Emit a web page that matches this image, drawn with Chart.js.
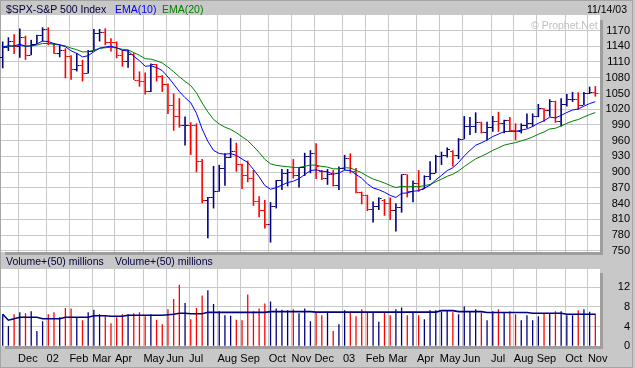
<!DOCTYPE html>
<html><head><meta charset="utf-8">
<script src="https://cdn.jsdelivr.net/npm/chart.js@4.4.1/dist/chart.umd.min.js"></script>
<style>
html,body{margin:0;padding:0;background:#c8c8c8;}
#wrap{position:relative;width:635px;height:368px;overflow:hidden;background:#c8c8c8;font-family:"Liberation Sans",Arial,sans-serif;}
.t{position:absolute;font-size:10.5px;white-space:pre;line-height:1;}
canvas{position:absolute;left:0;}
.sh{position:absolute;background:#9e9e9e;}
#frame{position:absolute;left:0;top:0;width:631px;height:366px;border:1px solid #a4a4a4;}
</style></head><body>
<div id="wrap">
  <div id="frame"></div>
  <canvas id="pc" width="635" height="262" style="top:0"></canvas>
  <canvas id="vc" width="635" height="113" style="top:255px"></canvas>
  <div class="sh" style="left:600px;top:20px;width:3px;height:235px"></div>
  <div class="sh" style="left:5px;top:252px;width:598px;height:3px"></div>
  <div class="sh" style="left:600px;top:273px;width:3px;height:76px"></div>
  <div class="sh" style="left:5px;top:346px;width:598px;height:3px"></div>
  <span class="t" style="left:6px;top:4px;color:#000040">$SPX-S&amp;P 500 Index</span>
  <span class="t" style="left:115px;top:4px;color:#0000ff">EMA(10)</span>
  <span class="t" style="left:162px;top:4px;color:#008000">EMA(20)</span>
  <span class="t" style="right:8px;top:4px;color:#000">11/14/03</span>
  <span class="t" style="left:531px;top:20px;color:#c0c0c0">© Prophet.Net</span>
  <span class="t" style="left:6px;top:256px;color:#000040">Volume+(50) millions</span>
  <span class="t" style="left:115px;top:256px;color:#000040">Volume+(50) millions</span>
</div>
<script>
// ---- data (weekly, Nov 2001 - Nov 14 2003) ----
const firstWeekMonday = Date.UTC(2001, 10, 12);
const weekCount = 105;
const weeks = Array.from({length: weekCount}, (_, i) => new Date(firstWeekMonday + i * 7 * 864e5));

const priceHigh = [1149,1157,1163,1174,1160,1152,1162,1176,1176,1146,
 1142,1136,1123,1127,1114,1133,1173,1173,1174,1155,
 1149,1133,1133,1127,1092,1090,1107,1106,1085,1069,
 1050,1041,1006,995,993,925,853,912,914,936,
 965,956,916,922,904,854,847,843,885,906,
 906,925,910,937,942,955,904,906,904,911,
 933,936,908,863,857,844,852,849,852,841,
 896,896,884,904,894,921,933,939,947,942,
 965,1007,1005,1014,996,996,1007,1015,1000,1005,
 993,993,1012,1012,1030,1022,1039,1036,1041,1049,
 1053,1052,1053,1063,1064];
const priceLow = [1098,1131,1125,1118,1114,1123,1144,1149,1142,1125,
 1119,1079,1076,1092,1073,1088,1131,1149,1142,1130,
 1117,1101,1099,1076,1063,1048,1053,1073,1053,1011,
 979,985,951,933,900,841,774,831,863,874,
 927,901,868,881,836,814,793,766,831,866,
 873,888,871,893,898,887,885,876,873,866,
 904,898,860,839,826,804,828,817,809,787,
 823,852,843,863,868,885,898,914,928,911,
 925,963,971,975,974,961,977,977,974,977,
 961,974,984,987,1005,996,1006,994,987,1025,
 1034,1019,1028,1049,1044];
const priceOpen = [1120.0,1138.7,1150.3,1139.5,1158.3,1123.1,1144.9,1161.0,1172.5,1145.6,
 1127.6,1133.3,1122.2,1096.2,1104.2,1089.8,1131.8,1164.3,1166.2,1148.7,
 1147.4,1122.7,1111.0,1125.2,1076.3,1073.4,1055.0,1106.6,1083.8,1067.1,
 1027.5,1007.3,989.1,989.8,989.0,921.4,847.8,852.8,864.2,908.6,
 928.8,940.9,916.1,893.9,889.8,845.4,827.4,800.6,835.3,884.4,
 897.7,901.0,894.7,909.8,930.6,936.3,903.0,889.5,895.8,875.4,
 908.6,927.6,901.8,861.4,855.7,829.7,834.9,848.0,841.2,828.9,
 833.3,895.8,863.5,878.9,868.3,893.6,898.8,930.1,933.4,941.0,
 933.2,963.6,987.8,988.6,995.7,976.2,985.7,998.1,993.3,998.7,
 980.2,977.6,990.7,993.1,1008.0,1021.4,1018.6,1035.0,996.9,1029.9,
 1038.7,1039.3,1028.9,1050.7,1053.2];
const priceClose = [1138.7,1150.3,1139.5,1158.3,1123.1,1144.9,1161.0,1172.5,1145.6,1127.6,
 1133.3,1122.2,1096.2,1104.2,1089.8,1131.8,1164.3,1166.2,1148.7,1147.4,
 1122.7,1111.0,1125.2,1076.3,1073.4,1055.0,1106.6,1083.8,1067.1,1027.5,
 1007.3,989.1,989.8,989.0,921.4,847.8,852.8,864.2,908.6,928.8,
 940.9,916.1,893.9,889.8,845.4,827.4,800.6,835.3,884.4,897.7,
 901.0,894.7,909.8,930.6,936.3,912.2,889.5,895.8,875.4,908.6,
 927.6,901.8,861.4,855.7,829.7,834.9,851.2,841.2,828.9,833.3,
 895.8,863.5,878.9,868.3,893.6,898.8,930.1,933.4,944.3,933.2,
 963.6,987.8,988.6,995.7,976.2,985.7,998.1,993.3,998.7,980.2,
 977.6,990.7,993.1,1008.0,1021.4,1018.6,1036.3,996.9,1029.9,1038.7,
 1039.3,1028.9,1050.7,1053.2,1050.4];
const ema10 = [1138.7,1140.8,1140.6,1143.8,1140.0,1140.9,1144.6,1149.7,1148.9,1145.0,
 1142.9,1139.1,1131.3,1126.4,1119.7,1121.9,1129.6,1136.3,1138.5,1140.1,
 1137.0,1132.2,1131.0,1121.0,1112.4,1101.9,1102.8,1099.3,1093.5,1081.5,
 1068.0,1053.6,1042.0,1032.4,1012.2,982.3,958.8,941.6,935.6,934.3,
 935.5,932.0,925.1,918.6,905.3,891.2,874.7,867.5,870.6,875.5,
 880.2,882.8,887.7,895.5,903.0,904.6,901.9,900.8,896.2,898.4,
 903.7,903.4,895.7,888.5,877.8,870.0,866.6,861.9,855.9,851.8,
 859.8,860.5,863.8,864.7,869.9,875.2,885.2,893.9,903.1,908.6,
 918.6,931.1,941.6,951.4,955.9,961.3,968.0,972.6,977.4,977.9,
 977.8,980.2,982.5,987.1,993.4,998.0,1004.9,1003.5,1008.3,1013.8,
 1018.5,1020.4,1025.9,1030.8,1034.4];
const ema20 = [1138.7,1139.8,1139.8,1141.6,1139.8,1140.3,1142.3,1145.2,1145.2,1143.5,
 1142.5,1140.6,1136.4,1133.3,1129.2,1129.4,1132.7,1135.9,1137.1,1138.1,
 1136.6,1134.2,1133.3,1127.9,1122.7,1116.3,1115.4,1112.4,1108.1,1100.4,
 1091.5,1081.8,1073.0,1065.0,1051.3,1031.9,1014.9,1000.5,991.8,985.8,
 981.5,975.3,967.5,960.1,949.2,937.6,924.6,916.1,913.0,911.6,
 910.6,909.1,909.1,911.2,913.6,913.4,911.1,909.7,906.4,906.6,
 908.6,908.0,903.6,899.0,892.4,887.0,883.5,879.5,874.7,870.7,
 873.1,872.2,872.8,872.4,874.4,876.8,881.8,886.7,892.2,896.1,
 902.6,910.7,918.1,925.5,930.3,935.6,941.6,946.5,951.5,954.2,
 956.4,959.7,962.9,967.2,972.3,976.7,982.4,983.8,988.2,993.0,
 997.4,1000.4,1005.2,1009.8,1013.6];
const volume = [6.5,4.1,6.5,6.9,6.7,7.1,3.1,5.1,6.5,6.9,
 5.9,7.8,7.7,5.9,5.3,6.9,7.4,6.5,6.1,4.7,
 5.9,6.5,6.5,6.7,6.9,6.1,6.5,5.4,4.5,7.5,
 9.6,12.5,8.8,5.5,7.8,10.3,11.4,8.6,7.1,6.3,
 6.2,5.4,5.3,10.5,7.1,7.7,8.7,9.1,7.7,7.4,
 7.3,7.5,6.7,7.7,5.1,6.9,6.3,7.0,3.1,4.5,
 7.3,7.0,6.1,7.5,6.8,6.8,5.0,6.8,6.3,7.5,
 7.9,6.3,7.0,6.3,5.5,7.3,7.3,7.0,7.3,6.9,
 6.5,8.1,7.0,7.5,6.8,5.3,7.1,7.5,6.8,7.1,
 6.5,5.3,6.3,5.3,6.1,6.7,6.7,7.1,7.1,6.3,
 6.3,7.3,7.5,7.0,6.6];
const volumeAvg50 = [6.5,5.3,5.6,5.9,5.9,5.9,5.9,5.6,5.6,5.6,
 5.6,5.9,5.9,5.9,5.9,5.9,6.2,6.2,6.2,6.1,
 6.1,6.1,6.3,6.3,6.3,6.3,6.3,6.3,6.3,6.4,
 6.5,6.7,6.7,6.6,6.6,6.6,6.9,6.9,6.9,6.9,
 6.9,6.9,6.9,6.9,6.9,6.9,6.9,7.05,7.05,7.05,
 7.05,7.05,7.05,7.05,7.05,6.95,6.95,6.95,6.95,6.95,
 6.95,6.95,6.95,6.95,6.95,6.95,6.95,6.95,6.95,6.95,
 6.95,6.95,6.95,6.95,6.95,6.95,6.95,7.25,7.25,7.25,
 7.05,7.05,7.05,7.05,7.05,6.85,6.85,6.85,6.85,6.85,
 6.85,6.85,6.85,6.7,6.7,6.7,6.7,6.7,6.7,6.5,
 6.5,6.5,6.5,6.5,6.5];
const priceTicks = [750,780,810,840,870,900,930,960,990,1020,1050,1080,1110,1140,1170];
const volumeTicks = [0,4,8,12];
const monthNames = ['Jan','Feb','Mar','Apr','May','Jun','Jul','Aug','Sep','Oct','Nov','Dec'];

// month boundaries from the weekly dates
const monthStarts = [], monthLabels = [];
weeks.forEach((d, i) => {
  if (i > 0 && d.getUTCMonth() !== weeks[i-1].getUTCMonth()) {
    monthStarts.push(i);
    const m = d.getUTCMonth();
    monthLabels.push(m === 0 ? String(d.getUTCFullYear()).slice(2) : monthNames[m]);
  }
});

const UP = '#000080', DOWN = '#ff0000', GRID = '#c8c8c8';
const barColors = priceClose.map((c, i) => (i > 0 && c < priceClose[i-1]) ? DOWN : UP);
const FONT = {family: '"Liberation Sans", Arial, sans-serif', size: 11};
const X_MIN = -0.3, X_MAX = 104.82;

const whiteArea = {
  id: 'whiteArea',
  beforeDraw(chart) {
    const {ctx, chartArea: a} = chart;
    ctx.save(); ctx.fillStyle = '#ffffff';
    ctx.fillRect(a.left, a.top, a.right - a.left, a.bottom - a.top);
    ctx.restore();
  }
};
const ohlcTicks = {
  id: 'ohlcTicks',
  afterDatasetsDraw(chart) {
    const {ctx, scales: {x, y}} = chart;
    ctx.save();
    for (let i = 0; i < priceClose.length; i++) {
      const px = x.getPixelForValue(i);
      ctx.fillStyle = barColors[i];
      ctx.fillRect(px - 2.8, Math.round(y.getPixelForValue(priceOpen[i])), 2, 1);
      ctx.fillRect(px + 0.8, Math.round(y.getPixelForValue(priceClose[i])), 2, 1);
    }
    ctx.restore();
  }
};

function monthAxis(showLabels) {
  return {
    type: 'linear', min: X_MIN, max: X_MAX, offset: false,
    grid: {color: GRID, lineWidth: 1, drawTicks: false, offset: false},
    border: {display: false},
    ticks: {display: showLabels, autoSkip: false, maxRotation: 0, align: 'start', padding: 6,
      color: '#000', font: FONT, callback: (v, idx) => monthLabels[idx]},
    afterBuildTicks: s => { s.ticks = monthStarts.map(i => ({value: i - 0.3})); },
    afterFit: s => { s.height = showLabels ? 21.7 : 0; }
  };
}

new Chart(document.getElementById('pc'), {
  type: 'bar',
  data: {
    datasets: [
      {type: 'line', data: ema10.map((v, i) => ({x: i, y: v})), borderColor: '#0000ff', borderWidth: 1,
        pointRadius: 0, fill: false, tension: 0, order: 0},
      {type: 'line', data: ema20.map((v, i) => ({x: i, y: v})), borderColor: '#008000', borderWidth: 1,
        pointRadius: 0, fill: false, tension: 0, order: 0},
      {type: 'bar', data: priceHigh.map((h, i) => ({x: i, y: [priceLow[i], h]})),
        backgroundColor: barColors, borderWidth: 0, barThickness: 1.6, inflateAmount: 0, order: 1}
    ]
  },
  options: {
    responsive: false, animation: false, events: [], devicePixelRatio: 1,
    layout: {padding: {left: 1, top: 15, right: 5, bottom: 10}},
    plugins: {legend: {display: false}, tooltip: {enabled: false}},
    scales: {
      x: monthAxis(false),
      y: {
        position: 'right', min: 748, max: 1199.5,
        grid: {color: GRID, drawTicks: false}, border: {display: false},
        ticks: {color: '#000', font: FONT, padding: 5, crossAlign: 'far', callback: v => String(v)},
        afterBuildTicks: s => { s.ticks = priceTicks.map(v => ({value: v})); },
        afterFit: s => { s.width = 30; s.paddingTop = 0; s.paddingBottom = 0; }
      }
    }
  },
  plugins: [whiteArea, ohlcTicks]
});

new Chart(document.getElementById('vc'), {
  type: 'bar',
  data: {
    datasets: [
      {type: 'line', data: volumeAvg50.map((v, i) => ({x: i, y: v})), borderColor: '#000080', borderWidth: 1.6,
        pointRadius: 0, fill: false, tension: 0, order: 0},
      {type: 'bar', data: volume.map((v, i) => ({x: i, y: v})), backgroundColor: barColors,
        borderWidth: 0, barThickness: 1.3, inflateAmount: 0, order: 1}
    ]
  },
  options: {
    responsive: false, animation: false, events: [], devicePixelRatio: 1,
    layout: {padding: {left: 1, top: 14, right: 5, bottom: 0}},
    plugins: {legend: {display: false}, tooltip: {enabled: false}},
    scales: {
      x: monthAxis(true),
      y: {
        position: 'right', min: 0, max: 15.7,
        grid: {color: GRID, drawTicks: false}, border: {display: false},
        ticks: {color: '#000', font: FONT, padding: 16, crossAlign: 'far', callback: v => String(v)},
        afterBuildTicks: s => { s.ticks = volumeTicks.map(v => ({value: v})); },
        afterFit: s => { s.width = 30; s.paddingTop = 0; s.paddingBottom = 0; }
      }
    }
  },
  plugins: [whiteArea]
});
</script>
</body></html>
